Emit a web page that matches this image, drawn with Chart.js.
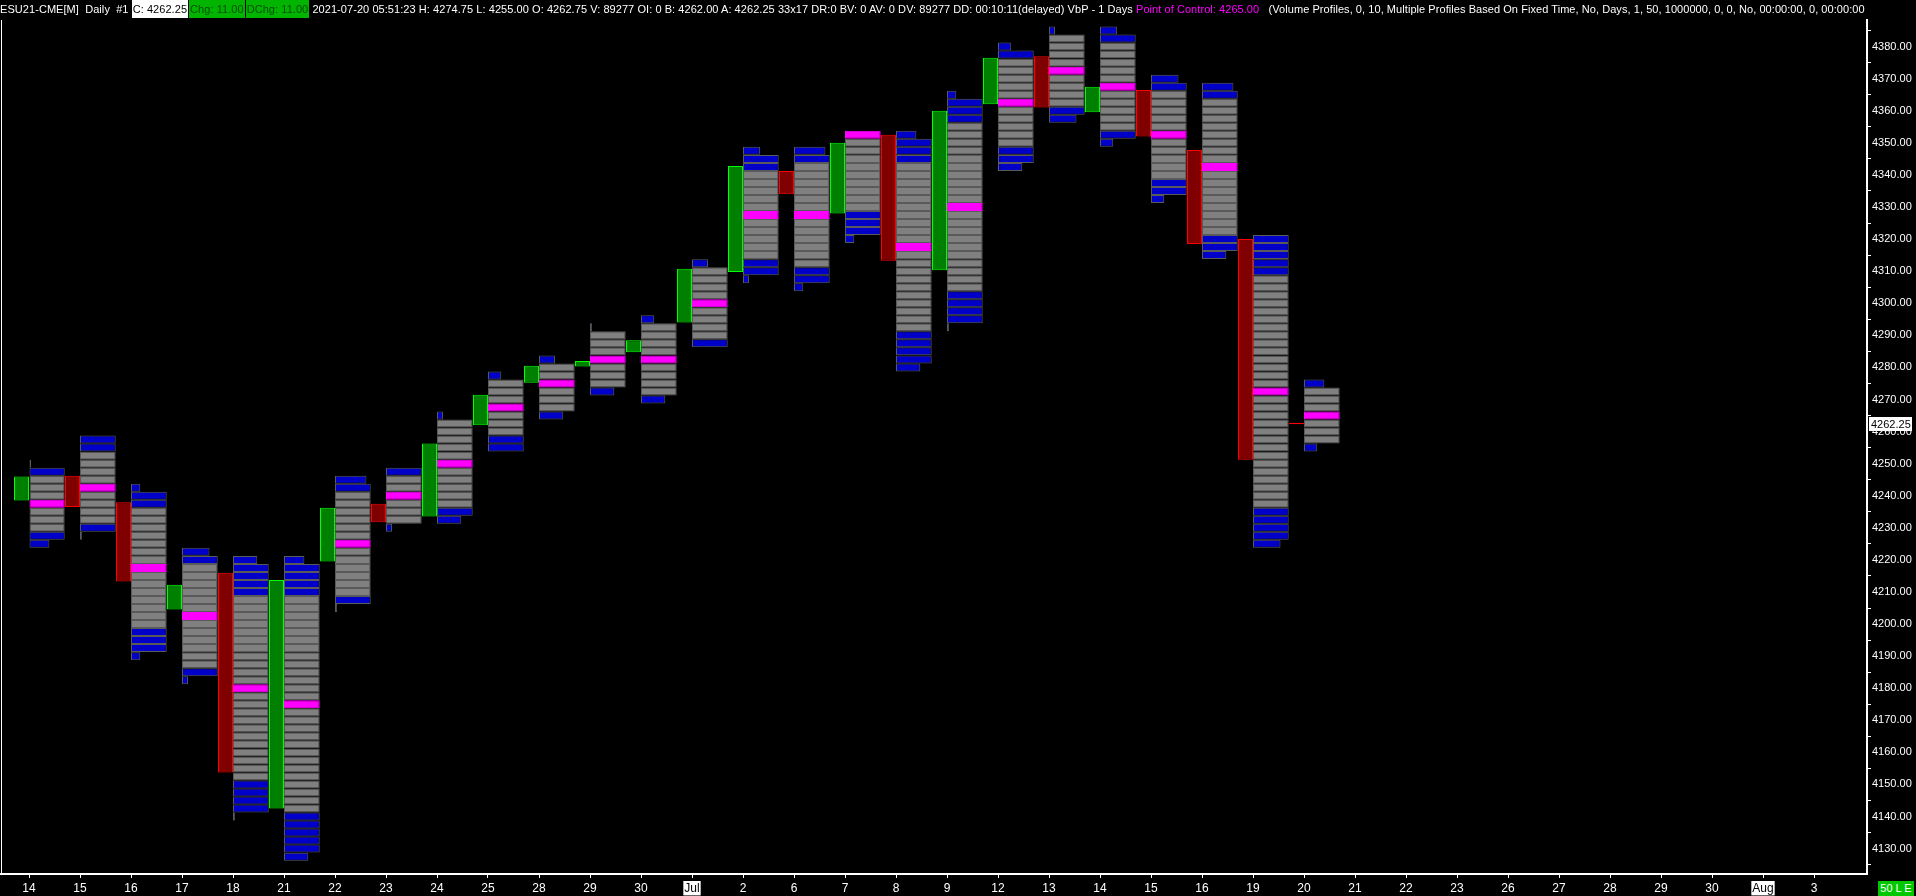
<!DOCTYPE html>
<html lang="en">
<head>
  <meta charset="UTF-8" />
  <title>ESU21-CME[M] Daily - Volume Profiles</title>
  <style>
    body {
      margin: 0;
      background: #000;
      overflow: hidden;
    }
    #wrap {
      position: absolute;
      left: 0;
      top: 0;
      width: 1916px;
      height: 896px;
    }
    #header {
      position: absolute;
      left: 0;
      top: 0;
      width: 1867px;
      height: 18px;
      overflow: hidden;
      white-space: nowrap;
      font-family: "Liberation Sans", Arial, sans-serif;
      font-size: 11px;
      letter-spacing: 0.06px;
      line-height: 18px;
      color: #fff;
      z-index: 2;
    }
    #header span {
      display: inline-block;
      height: 18px;
      vertical-align: top;
    }
    #header .bw { background: #fff; color: #000; padding: 0 1px; }
    #header .bg { background: #00b400; color: #004c00; padding: 0 1px; margin-left: 1px; }
    #header .poc { color: #ff00ff; }
    #corner {
      position: absolute;
      left: 1878px;
      top: 881px;
      width: 36px;
      height: 15px;
      background: #00c800;
      color: #fff;
      font-family: "Liberation Sans", Arial, sans-serif;
      font-size: 11px;
      line-height: 15px;
      text-align: center;
    }
  </style>
  <script src="https://cdn.jsdelivr.net/npm/chart.js"></script>
</head>
<body>

  <div id="header"><span>ESU21-CME[M]&nbsp; Daily&nbsp; #1&nbsp;</span><span class="bw">C: 4262.25</span><span class="bg">Chg: 11.00</span><span class="bg">DChg: 11.00</span><span>&nbsp;2021-07-20 05:51:23 H: 4274.75 L: 4255.00 O: 4262.75 V: 89277 OI: 0 B: 4262.00 A: 4262.25 33x17 DR:0 BV: 0 AV: 0 DV: 89277 DD: 00:10:11(delayed) VbP - 1 Days&nbsp; </span><span class="poc">Point of Control: 4265.00</span><span>&nbsp;&nbsp; (Volume Profiles, 0, 10, Multiple Profiles Based On Fixed Time, No, Days, 1, 50, 1000000, 0, 0, No, 00:00:00, 0, 00:00:00</span></div>

  <div id="wrap"><canvas id="chart"></canvas></div>
  <div id="corner">50 L E</div>

  <script>
    const FONT = '"Liberation Sans", Arial, sans-serif';

    // x axis: one slot per session
    const dayLabels = ['14', '15', '16', '17', '18', '21', '22', '23', '24', '25', '28', '29', '30', 'Jul',
      '2', '6', '7', '8', '9', '12', '13', '14', '15', '16', '19', '20', '21', '22', '23', '26', '27',
      '28', '29', '30', 'Aug', '3'];
    const monthLabels = ['Jul', 'Aug'];

    const yTicks = [4130, 4140, 4150, 4160, 4170, 4180, 4190, 4200, 4210, 4220, 4230, 4240, 4250, 4260,
      4270, 4280, 4290, 4300, 4310, 4320, 4330, 4340, 4350, 4360, 4370, 4380];

    // candle bodies (open / close)
    const opens = [4238.5, 4246.25, 4238, 4204.5, 4216, 4142.5, 4219.5, 4237.5, 4233.5, 4262, 4275.25,
      4280.25, 4284.75, 4294, 4309.75, 4341.25, 4328, 4352.5, 4310.25, 4362, 4377, 4359.5, 4366.5,
      4347.75, 4320, 4262.75];
    const closes = [4246, 4236.5, 4213.25, 4212.25, 4153.75, 4213.75, 4236.25, 4231.75, 4256.25, 4271.5,
      4280.5, 4282, 4288.5, 4310.75, 4342.75, 4334, 4350, 4313.25, 4360, 4376.5, 4361, 4367.5, 4352,
      4318.5, 4251.25, 4262.25];

    // volume profiles: 2.5 point rows from profHigh down to profLow
    const profHigh = [4250, 4257.5, 4242.5, 4222.5, 4220, 4220, 4245, 4247.5, 4265, 4277.5, 4282.5, 4292.5,
      4295, 4312.5, 4347.5, 4347.5, 4352.5, 4352.5, 4365, 4380, 4385, 4385, 4370, 4367.5, 4320, 4275];
    const profLow = [4225, 4227.5, 4190, 4182.5, 4140, 4127.5, 4205, 4230, 4232.5, 4255, 4265, 4272.5,
      4270, 4287.5, 4307.5, 4305, 4320, 4280, 4292.5, 4342.5, 4357.5, 4350, 4332.5, 4315, 4225, 4255];
    // relative width of the top and bottom rows (the rows between are full width)
    const topWidth = [0.06, 1, 0.26, 0.77, 0.68, 0.57, 0.88, 1, 0.17, 0.37, 0.45, 0.06, 0.37, 0.45, 0.48,
      0.88, 1, 0.57, 0.26, 0.37, 0.17, 0.48, 0.77, 0.88, 1, 0.57];
    const bottomWidth = [0.57, 0.06, 0.26, 0.17, 0.06, 0.68, 0.06, 0.17, 0.68, 1, 0.68, 0.68, 0.68, 1, 0.17,
      0.26, 0.26, 0.68, 0.06, 0.68, 0.77, 0.37, 0.37, 0.68, 0.77, 0.37];
    const vaHigh = [4245, 4252.5, 4235, 4217.5, 4207.5, 4207.5, 4240, 4245, 4262.5, 4275, 4280, 4290, 4292.5,
      4310, 4340, 4342.5, 4352.5, 4342.5, 4355, 4375, 4382.5, 4380, 4365, 4362.5, 4307.5, 4272.5];
    const vaLow = [4230, 4232.5, 4200, 4187.5, 4152.5, 4142.5, 4210, 4232.5, 4237.5, 4260, 4267.5, 4275,
      4272.5, 4290, 4315, 4312.5, 4330, 4292.5, 4305, 4350, 4362.5, 4355, 4340, 4322.5, 4237.5, 4257.5];
    const pocPrice = [4237.5, 4242.5, 4217.5, 4202.5, 4180, 4175, 4225, 4240, 4250, 4267.5, 4275, 4282.5,
      4282.5, 4300, 4327.5, 4327.5, 4352.5, 4317.5, 4330, 4362.5, 4372.5, 4367.5, 4352.5, 4342.5, 4272.5, 4265];

    const rowSize = 2.5;
    const lastPrice = 4262.25;

    const profileSpan = 0.7;     // full row width, in slots
    const candleShift = 0.147;   // candle sits just left of the profile

    const candleData = opens.map((o, i) => ({ x: i - candleShift, y: [o, closes[i]] }));
    const candleFill = opens.map((o, i) => closes[i] >= o ? '#008000' : '#800000');
    const candleEdge = opens.map((o, i) => closes[i] >= o ? '#00ff00' : '#ff0000');

    const rowData = [];
    const rowFill = [];
    const rowEdge = [];
    profHigh.forEach((hi, d) => {
      const n = Math.round((hi - profLow[d]) / rowSize);
      for (let k = 0; k <= n; k++) {
        const p = hi - k * rowSize;
        const w = k === 0 ? topWidth[d] : (k === n ? bottomWidth[d] : 1);
        rowData.push({ y: p, x: [d, d + profileSpan * w] });
        if (p === pocPrice[d]) {
          rowFill.push('#ff00ff');
          rowEdge.push('#ff00ff');
        } else if (p <= vaHigh[d] && p >= vaLow[d]) {
          rowFill.push('#808080');
          rowEdge.push('#5a5a5a');
        } else {
          rowFill.push('#0000c8');
          rowEdge.push('#5a5a5a');
        }
      }
    });

    const framePlugin = {
      id: 'frame',
      afterDraw(chart) {
        const { ctx, chartArea: a, scales: { y } } = chart;
        ctx.save();
        ctx.strokeStyle = '#fff';
        ctx.lineWidth = 1;
        ctx.beginPath();
        ctx.moveTo(a.left + 0.5, a.top);
        ctx.lineTo(a.left + 0.5, a.bottom);
        ctx.stroke();

        const py = Math.round(y.getPixelForValue(lastPrice));
        ctx.fillStyle = '#fff';
        ctx.fillRect(a.right + 2, py - 7, 43, 14);
        ctx.fillStyle = '#000';
        ctx.font = '11px ' + FONT;
        ctx.textBaseline = 'middle';
        ctx.fillText(lastPrice.toFixed(2), a.right + 4, py + 1);
        ctx.restore();
      }
    };

    new Chart(document.getElementById('chart'), {
      type: 'bar',
      data: {
        datasets: [
          {
            label: 'Volume Profile',
            indexAxis: 'y',
            data: rowData,
            backgroundColor: rowFill,
            borderColor: rowEdge,
            borderWidth: 1,
            borderSkipped: false,
            barThickness: 8,
            barPercentage: 1,
            categoryPercentage: 1,
            grouped: false,
            inflateAmount: 0
          },
          {
            label: 'Candles',
            indexAxis: 'x',
            data: candleData,
            backgroundColor: candleFill,
            borderColor: candleEdge,
            borderWidth: 1,
            borderSkipped: false,
            barThickness: 15,
            barPercentage: 1,
            categoryPercentage: 1,
            grouped: false,
            inflateAmount: 0
          }
        ]
      },
      options: {
        responsive: true,
        maintainAspectRatio: false,
        animation: false,
        layout: { padding: { top: 20, left: 1, right: 0, bottom: 0 } },
        plugins: {
          legend: { display: false },
          tooltip: { enabled: false }
        },
        scales: {
          x: {
            type: 'linear',
            min: -28 / 51,
            max: 1838 / 51,
            offset: false,
            afterBuildTicks: s => { s.ticks = dayLabels.map((_, i) => ({ value: i })); },
            afterFit: s => { s.height = 22; },
            ticks: {
              autoSkip: false,
              maxRotation: 0,
              padding: 3,
              font: { family: FONT, size: 12 },
              color: c => monthLabels.includes(dayLabels[c.index]) ? '#000' : '#fff',
              showLabelBackdrop: c => monthLabels.includes(dayLabels[c.index]),
              backdropColor: '#fff',
              backdropPadding: { x: 1, y: 0 },
              callback: v => dayLabels[Math.round(v)]
            },
            grid: { drawOnChartArea: false, drawTicks: true, tickLength: 4, color: '#fff', offset: false },
            border: { display: true, color: '#fff', width: 2 }
          },
          y: {
            type: 'linear',
            position: 'right',
            min: 4122.09,
            max: 4388.29,
            offset: false,
            beginAtZero: false,
            afterBuildTicks: s => { s.ticks = yTicks.map(v => ({ value: v })); },
            afterFit: s => { s.width = 49; },
            ticks: {
              autoSkip: false,
              padding: 1,
              font: { family: FONT, size: 11 },
              color: '#fff',
              callback: v => v.toFixed(2)
            },
            grid: { drawOnChartArea: false, drawTicks: true, tickLength: 4, color: '#fff' },
            border: { display: true, color: '#fff', width: 2 }
          }
        }
      },
      plugins: [framePlugin]
    });
  </script>

</body>
</html>
